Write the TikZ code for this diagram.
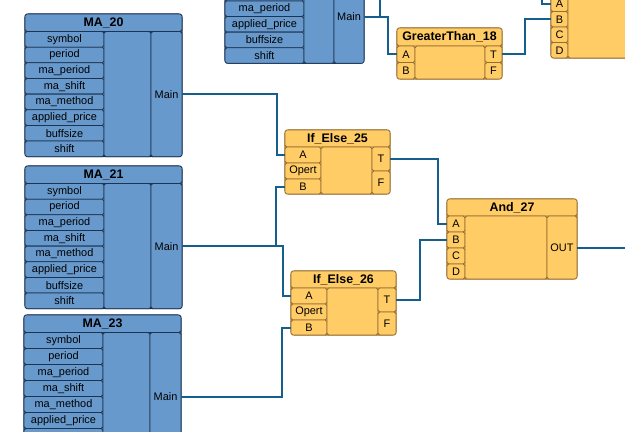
\documentclass[tikz,border=0pt]{standalone}
\usepackage{fontspec}
\setmainfont{Liberation Sans}
\definecolor{blueFill}{RGB}{104,153,204}
\definecolor{blueLine}{RGB}{28,52,84}
\definecolor{yelFill}{RGB}{255,204,102}
\definecolor{yelLine}{RGB}{150,110,50}
\definecolor{wireC}{RGB}{22,94,140}
\newcommand{\cellbox}[7]{%
  \pgfmathsetmacro{\cellW}{((#4)-(#2))*0.75}%
  \pgfmathsetmacro{\cellH}{((#5)-(#3))*0.75}%
  \node[#6,minimum width=\cellW pt,minimum height=\cellH pt] (#1) at ({((#2)+(#4))/2},{((#3)+(#5))/2}) {#7};%
}
% #1 name, #2 x, #3 y, #4 title, #5 row pitch, #6 labels
\newcommand{\mablk}[6]{%
  \path[bframe] (#2,#3) rectangle ({(#2)+157},{(#3)+17.5+8*(#5)});
  \cellbox{#1t}{#2}{#3}{(#2)+157}{(#3)+17.5}{btitle}{#4}
  \foreach \lab [count=\k from 0] in {#6}{
    \cellbox{#1r\k}{#2}{(#3)+17.5+(#5)*\k}{(#2)+79}{(#3)+17.5+(#5)*(\k+1)}{bcell}{\lab}
  }
  \cellbox{#1mid}{(#2)+79}{(#3)+17.5}{(#2)+126}{(#3)+17.5+8*(#5)}{bcell}{}
  \cellbox{#1main}{(#2)+126}{(#3)+17.5}{(#2)+157}{(#3)+17.5+8*(#5)}{bcell}{Main}
}
\newcommand{\ifblk}[4]{%
  \path[yframe] (#2,#3) rectangle ({(#2)+105},{(#3)+64});
  \cellbox{#1t}{#2}{#3}{(#2)+105}{(#3)+17}{ytitle}{#4}
  \cellbox{#1A}{#2}{(#3)+17}{(#2)+36}{(#3)+33}{ycell}{A}
  \cellbox{#1O}{#2}{(#3)+33}{(#2)+36}{(#3)+49}{ycell}{Opert}
  \cellbox{#1B}{#2}{(#3)+49}{(#2)+36}{(#3)+64}{ycell}{B}
  \cellbox{#1mid}{(#2)+36}{(#3)+17}{(#2)+87}{(#3)+64}{ycell}{}
  \cellbox{#1T}{(#2)+87}{(#3)+17}{(#2)+105}{(#3)+41}{ycell}{T}
  \cellbox{#1F}{(#2)+87}{(#3)+41}{(#2)+105}{(#3)+64}{ycell}{F}
}
\tikzset{
  cellbase/.style={rectangle,inner sep=0pt,outer sep=0pt,rounded corners=1.3pt,line width=0.6pt,text=black,font=\fontsize{8.2}{9}\selectfont},
  bcell/.style={cellbase,draw=blueLine,fill=blueFill},
  btitle/.style={bcell,font=\fontsize{9.3}{10}\selectfont\bfseries},
  ycell/.style={cellbase,draw=yelLine,fill=yelFill},
  ytitle/.style={ycell,font=\fontsize{9.3}{10}\selectfont\bfseries},
  bframe/.style={draw=blueLine,fill=blueFill,line width=0.8pt,rounded corners=2.5pt},
  yframe/.style={draw=yelLine,fill=yelFill,line width=0.8pt,rounded corners=2.5pt},
  wire/.style={draw=wireC,line width=1.5pt}
}
\begin{document}
\begin{tikzpicture}[x=0.75pt,y=-0.75pt]
\useasboundingbox (0,0) rectangle (625,432);
\clip (0,0) rectangle (625,432);
\fill[white] (0,0) rectangle (625,432);

% MA blocks
\mablk{ma20}{25}{14}{MA\_20}{15.65}{symbol,period,ma\_period,ma\_shift,ma\_method,applied\_price,buffsize,shift}
\mablk{ma21}{25}{166}{MA\_21}{15.65}{symbol,period,ma\_period,ma\_shift,ma\_method,applied\_price,buffsize,shift}
\mablk{ma23}{24}{315}{MA\_23}{16}{symbol,period,ma\_period,ma\_shift,ma\_method,applied\_price,{},{}}

% top partial block
\path[bframe] (225,-48) rectangle (364,63.3);
\cellbox{tpr0}{225}{-30.3}{304}{-14.7}{bcell}{}
\cellbox{tpr1}{225}{-14.7}{304}{0.9}{bcell}{}
\cellbox{tpr2}{225}{0.9}{304}{16.5}{bcell}{ma\_period}
\cellbox{tpr3}{225}{16.5}{304}{32.1}{bcell}{applied\_price}
\cellbox{tpr4}{225}{32.1}{304}{47.7}{bcell}{buffsize}
\cellbox{tpr5}{225}{47.7}{304}{63.3}{bcell}{shift}
\cellbox{tpmid}{304}{-30.3}{334}{63.3}{bcell}{}
\cellbox{tpmain}{334}{-30.3}{364}{63.3}{bcell}{Main}

% GreaterThan_18
\path[yframe] (397,28) rectangle (502,79);
\cellbox{gtt}{397}{28}{502}{46}{ytitle}{GreaterThan\_18}
\cellbox{gtA}{397}{46}{415}{62.5}{ycell}{A}
\cellbox{gtB}{397}{62.5}{415}{79}{ycell}{B}
\cellbox{gtmid}{415}{46}{485}{79}{ycell}{}
\cellbox{gtT}{485}{46}{502}{62.5}{ycell}{T}
\cellbox{gtF}{485}{62.5}{502}{79}{ycell}{F}

% right partial block
\path[yframe] (551,-25) rectangle (700,58);
\cellbox{rbt}{551}{-22}{700}{-4.5}{ytitle}{}
\cellbox{rbA}{551}{-4.5}{568}{11.5}{ycell}{A}
\cellbox{rbB}{551}{11.5}{568}{27}{ycell}{B}
\cellbox{rbC}{551}{27}{568}{42.5}{ycell}{C}
\cellbox{rbD}{551}{42.5}{568}{58}{ycell}{D}
\cellbox{rbmid}{568}{-4.5}{700}{58}{ycell}{}

% If/Else blocks
\ifblk{ie25}{285}{130}{If\_Else\_25}
\ifblk{ie26}{291}{271}{If\_Else\_26}

% And_27
\path[yframe] (447,199) rectangle (577,279);
\cellbox{and27t}{447}{199}{577}{216}{ytitle}{And\_27}
\cellbox{and27A}{447}{216}{465}{232}{ycell}{A}
\cellbox{and27B}{447}{232}{465}{248}{ycell}{B}
\cellbox{and27C}{447}{248}{465}{264}{ycell}{C}
\cellbox{and27D}{447}{264}{465}{279}{ycell}{D}
\cellbox{and27mid}{465}{216}{547}{279}{ycell}{}
\cellbox{and27OUT}{547}{216}{577}{279}{ycell}{OUT}

% wires
\draw[wire] (ma20main.east) -- ++(95,0) |- (ie25A.west);
\draw[wire] (ma21main.east) -- ++(94,0) coordinate (j21) |- (ie25B.west);
\draw[wire] (j21) -- ++(7,0) |- (ie26A.west);
\draw[wire] (ma23main.east) -- ++(101,0) |- (ie26B.west);
\draw[wire] (ie25T.east) -- ++(48,0) |- (and27A.west);
\draw[wire] (ie26T.east) -- ++(24,0) |- (and27B.west);
\draw[wire] (and27OUT.east) -- ++(60,0);
\draw[wire] (tpmain.east) -- ++(24,0) |- (gtA.west);
\draw[wire] (tpmain.east) -- ++(16,0) coordinate (jtp) -- ++(0,-30);
\draw[wire] (gtT.east) -- ++(23,0) |- (rbB.west);
\coordinate (rbfeed) at (542,-10);
\draw[wire] (rbfeed) |- (rbA.west);
\end{tikzpicture}
\end{document}
